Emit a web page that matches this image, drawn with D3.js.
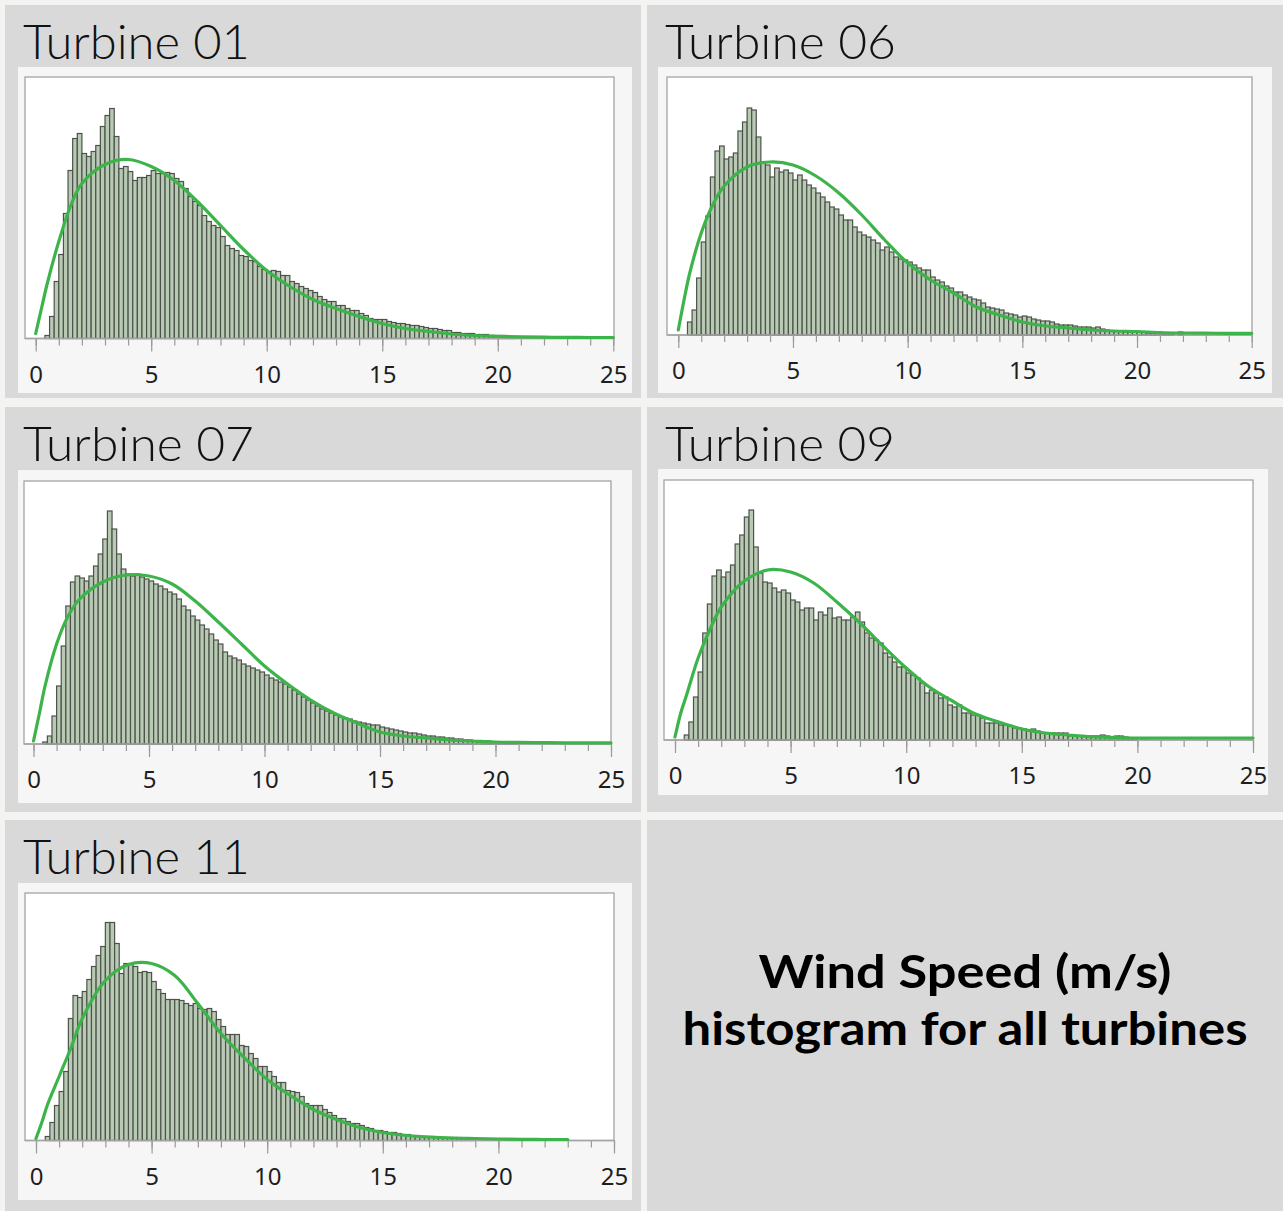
<!DOCTYPE html>
<html>
<head>
<meta charset="utf-8">
<script src="https://cdn.jsdelivr.net/npm/d3@7"></script>
<style>
  html, body { margin: 0; padding: 0; background: #f3f3f1; }
  svg { display: block; }
</style>
</head>
<body>
<div id="chart"></div>
<script>
// wind speed bins: 0.2 m/s wide, first bin starts at 0.4 m/s
const binStart = 0.4;
const binWidth = 0.2;

const turbineNames = ['Turbine 01', 'Turbine 06', 'Turbine 07', 'Turbine 09', 'Turbine 11'];

// bin counts
const t01Counts = [3, 22, 57, 84, 125, 168, 200, 205, 185, 182, 187, 193, 212, 223, 230, 202, 170, 172, 167, 158,
  161, 161, 163, 168, 165, 165, 166, 165, 160, 157, 150, 142, 137, 133, 123, 117, 113, 111, 102, 93,
  90, 88, 83, 82, 78, 77, 72, 69, 67, 68, 67, 63, 63, 57, 55, 52, 50, 48, 46, 42,
  39, 37, 37, 33, 33, 30, 28, 28, 25, 23, 20, 19, 19, 19, 17, 16, 15, 15, 14, 13,
  13, 12, 11, 10, 10, 9, 8, 8, 6, 6, 5, 5, 5, 4, 4, 4, 3, 3, 3, 3, 2, 1];
const t06Counts = [13, 25, 57, 93, 119, 158, 184, 189, 176, 178, 182, 204, 213, 227, 225, 198, 173, 170, 158, 167,
  163, 165, 162, 155, 160, 155, 150, 147, 142, 138, 133, 128, 126, 120, 115, 115, 108, 103, 100, 98,
  95, 92, 85, 88, 83, 78, 76, 75, 73, 70, 67, 65, 65, 58, 55, 53, 49, 47, 43, 43,
  40, 38, 36, 35, 32, 28, 27, 26, 25, 22, 21, 20, 18, 19, 18, 16, 15, 14, 14, 13,
  11, 10, 10, 10, 9, 8, 8, 8, 7, 8, 6, 5, 4, 4, 4, 3, 3, 3, 3, 3,
  2, 2, 2, 1, 1, 1, 0, 3];
const t07Counts = [2, 8, 28, 58, 98, 138, 162, 168, 166, 163, 168, 178, 190, 205, 233, 215, 190, 175, 170, 168,
  170, 167, 165, 163, 160, 158, 155, 152, 150, 145, 138, 134, 128, 124, 119, 115, 110, 104, 100, 92,
  88, 86, 84, 80, 78, 76, 74, 72, 69, 66, 64, 62, 60, 57, 54, 50, 47, 44, 41, 38,
  35, 33, 31, 29, 27, 26, 25, 23, 22, 21, 20, 19, 19, 17, 16, 15, 14, 13, 12, 11,
  11, 10, 9, 8, 8, 7, 7, 6, 6, 5, 5, 4, 4, 3, 3, 3, 3, 2, 2, 2, 2, 1, 1];
const t09Counts = [5, 18, 43, 68, 107, 136, 164, 170, 163, 168, 175, 196, 205, 223, 230, 193, 167, 158, 157, 152,
  148, 150, 147, 140, 138, 130, 132, 132, 120, 128, 125, 132, 122, 123, 120, 120, 123, 128, 118, 107,
  102, 100, 97, 87, 83, 78, 73, 73, 67, 65, 62, 57, 47, 50, 47, 42, 43, 35, 33, 35,
  27, 27, 25, 25, 22, 17, 17, 17, 15, 15, 14, 12, 12, 11, 10, 11, 9, 7, 7, 7,
  7, 7, 7, 4, 4, 4, 4, 3, 4, 4, 5, 4, 3, 4, 4, 3, 2, 2];
const t11Counts = [4, 18, 35, 49, 69, 122, 145, 143, 149, 161, 174, 185, 194, 218, 218, 197, 167, 177, 176, 174,
  168, 169, 168, 159, 151, 147, 141, 141, 141, 140, 137, 135, 137, 132, 131, 132, 129, 121, 114, 106,
  106, 106, 95, 94, 87, 82, 74, 74, 69, 64, 58, 58, 50, 49, 48, 44, 37, 35, 35, 35,
  31, 28, 25, 22, 22, 19, 17, 17, 15, 13, 12, 10, 10, 9, 8, 8, 7, 6, 6, 5,
  5, 4, 4, 4, 3, 3, 3, 3, 3, 3, 2, 2, 2];

// fitted distribution curve, sampled at these wind speeds
const curveX = [0, 0.25, 0.5, 1, 1.5, 2, 3, 4, 5, 6, 7, 8, 9, 10, 11, 12, 13, 14, 15, 16, 17, 18, 19, 20, 21, 22, 23, 24, 25];
const t01Curve = [5, 30, 55, 97, 132, 155, 174, 179, 172, 158, 137, 113, 89, 68, 52, 39, 30, 22, 15, 10, 7, 4.5, 3, 2.2, 1.6, 1.3, 1.1, 1, 1];
const t06Curve = [5, 35, 62, 102, 130, 149, 168, 173, 170, 159, 142, 120, 95, 72, 55, 42, 28, 20, 13, 9, 7, 5, 4, 3.5, 2.5, 2, 1.8, 1.7, 1.7];
const t07Curve = [3, 30, 58, 100, 128, 145, 162, 169, 168, 160, 143, 122, 100, 78, 60, 44, 31, 21, 12, 8, 6, 4, 3, 2, 1.6, 1.4, 1.2, 1.2, 1.2];
const t09Curve = [3, 27, 45, 82, 110, 133, 159, 170, 168, 157, 138, 117, 94, 72, 53, 39, 26, 18, 11, 7, 5, 3.3, 2.5, 2, 2, 2, 2, 2, 2];
const t11Curve = [2, 18, 36, 64, 92, 122, 160, 176, 177, 165, 137, 107, 83, 61, 45, 31, 21, 13, 8, 5, 3.5, 2.5, 2, 1.5, 1.2, 1, 1, null, null];

const majorTicks = [0, 5, 10, 15, 20, 25];
const minorTicks = [0, 1, 2, 3, 4, 5, 6, 7, 8, 9, 10, 11, 12, 13, 14, 15, 16, 17, 18, 19, 20, 21, 22, 23, 24, 25];

const captionLines = ['Wind Speed (m/s)', 'histogram for all turbines'];

// page layout: cell, light panel, plot box [left, top, right, axis], x of 0 and 25, title spot
const layout = [
  { cell: [5, 5, 636, 393], panel: [18, 67, 614, 326], box: [25, 77, 614, 338.5], x0: 35.7, x25: 613.3, title: [23, 59, 227] },
  { cell: [647, 5, 636, 393], panel: [658, 67, 614, 326], box: [667, 77, 1252, 335], x0: 678.3, x25: 1251.7, title: [665, 59, 231] },
  { cell: [5, 407, 636, 405], panel: [18, 470, 614, 333], box: [24, 481, 611, 744], x0: 33.5, x25: 611, title: [23, 461, 231] },
  { cell: [647, 407, 636, 405], panel: [658, 469, 610, 326], box: [664, 480, 1253, 740], x0: 675, x25: 1253, title: [665, 461, 230] },
  { cell: [5, 820, 636, 391], panel: [18, 883, 614, 317], box: [25, 893, 614, 1140.5], x0: 36, x25: 614, title: [23, 874, 227] }
];
const captionCell = [647, 820, 636, 391];

const width = 1283;
const height = 1211;

const svg = d3.select('#chart')
  .append('svg')
  .attr('width', width)
  .attr('height', height);

svg.append('rect')
  .attr('width', width)
  .attr('height', height)
  .attr('fill', '#f3f3f1');

const turbines = [
  { name: turbineNames[0], counts: t01Counts, curve: t01Curve },
  { name: turbineNames[1], counts: t06Counts, curve: t06Curve },
  { name: turbineNames[2], counts: t07Counts, curve: t07Curve },
  { name: turbineNames[3], counts: t09Counts, curve: t09Curve },
  { name: turbineNames[4], counts: t11Counts, curve: t11Curve }
];

turbines.forEach((t, i) => drawPanel(t, layout[i]));

function drawPanel(t, L) {
  const g = svg.append('g');

  g.append('rect')
    .attr('x', L.cell[0]).attr('y', L.cell[1])
    .attr('width', L.cell[2]).attr('height', L.cell[3])
    .attr('fill', '#d9d9d9');

  g.append('rect')
    .attr('x', L.panel[0]).attr('y', L.panel[1])
    .attr('width', L.panel[2]).attr('height', L.panel[3])
    .attr('fill', '#f6f6f6');

  g.append('text')
    .attr('x', L.title[0])
    .attr('y', L.title[1])
    .attr('textLength', L.title[2])
    .attr('lengthAdjust', 'spacingAndGlyphs')
    .attr('font-family', 'Lato, "Open Sans", sans-serif')
    .attr('font-weight', 300)
    .attr('font-size', 47)
    .attr('fill', '#111')
    .text(t.name);

  const [bl, bt, br, bb] = L.box;

  g.append('rect')
    .attr('x', bl).attr('y', bt)
    .attr('width', br - bl).attr('height', bb - bt)
    .attr('fill', '#fff')
    .attr('stroke', '#a4a4a4')
    .attr('stroke-width', 1.3);

  const x = d3.scaleLinear().domain([0, 25]).range([L.x0, L.x25]);
  const y = d3.scaleLinear().domain([0, bb - bt]).range([bb, bt]);

  const bins = t.counts.map((c, i) => ({ x0: binStart + i * binWidth, x1: binStart + (i + 1) * binWidth, count: c }))
    .filter(d => d.count > 0);

  g.append('g')
    .selectAll('rect')
    .data(bins)
    .enter()
    .append('rect')
    .attr('x', d => x(d.x0))
    .attr('y', d => y(d.count))
    .attr('width', d => x(d.x1) - x(d.x0))
    .attr('height', d => y(0) - y(d.count))
    .attr('fill', '#b8c9b4')
    .attr('stroke', '#4c534a')
    .attr('stroke-width', 1.2);

  // minor ticks every 1 m/s
  g.append('g')
    .attr('transform', `translate(0,${bb})`)
    .call(d3.axisBottom(x).tickValues(minorTicks).tickSize(7).tickSizeOuter(0).tickFormat(''))
    .call(a => a.select('.domain').remove())
    .call(a => a.selectAll('line').attr('stroke', '#9a9a9a').attr('stroke-width', 1.2));

  // major ticks with labels
  g.append('g')
    .attr('transform', `translate(0,${bb})`)
    .call(d3.axisBottom(x).tickValues(majorTicks).tickSize(13).tickSizeOuter(0))
    .call(a => a.select('.domain').remove())
    .call(a => a.selectAll('line').attr('stroke', '#9a9a9a').attr('stroke-width', 1.2))
    .call(a => a.selectAll('text')
      .attr('y', 44)
      .attr('dy', null)
      .attr('fill', '#1e1e1e')
      .attr('font-family', '"Noto Sans", "Open Sans", sans-serif')
      .attr('font-size', 24));

  // axis line
  g.append('line')
    .attr('x1', bl).attr('x2', br)
    .attr('y1', bb).attr('y2', bb)
    .attr('stroke', '#a4a4a4')
    .attr('stroke-width', 1.3);

  const pts = curveX.map((v, i) => [v, t.curve[i]]);
  const line = d3.line()
    .defined(d => d[1] !== null)
    .x(d => x(d[0]))
    .y(d => y(d[1]))
    .curve(d3.curveCatmullRom.alpha(0.5));

  g.append('path')
    .datum(pts)
    .attr('d', line)
    .attr('fill', 'none')
    .attr('stroke', '#3cb44a')
    .attr('stroke-width', 3.2)
    .attr('stroke-linecap', 'round');
}

// caption cell
svg.append('rect')
  .attr('x', captionCell[0]).attr('y', captionCell[1])
  .attr('width', captionCell[2]).attr('height', captionCell[3])
  .attr('fill', '#d9d9d9');

const captionY = [988, 1045];
const captionW = [413, 565];
svg.selectAll('.caption')
  .data(captionLines)
  .enter()
  .append('text')
  .attr('class', 'caption')
  .attr('x', 965)
  .attr('y', (d, i) => captionY[i])
  .attr('text-anchor', 'middle')
  .attr('textLength', (d, i) => captionW[i])
  .attr('lengthAdjust', 'spacingAndGlyphs')
  .attr('font-family', 'Lato, "Open Sans", sans-serif')
  .attr('font-weight', 'bold')
  .attr('font-size', 45)
  .attr('fill', '#000')
  .text(d => d);
</script>
</body>
</html>
